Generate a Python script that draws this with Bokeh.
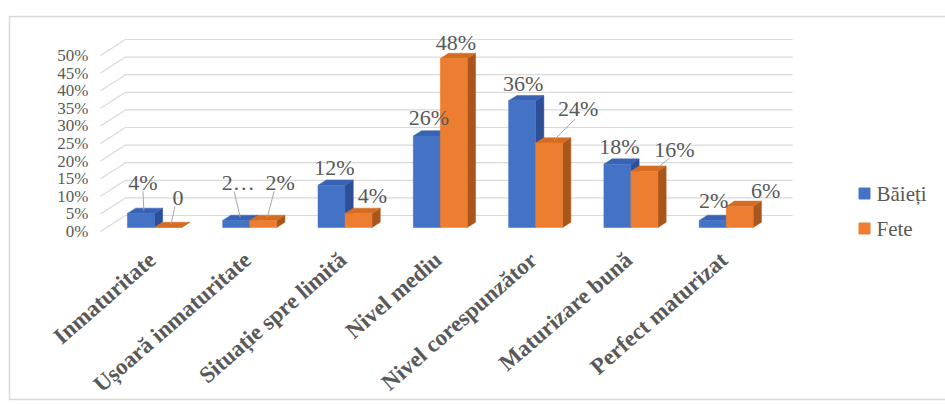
import math
from bokeh.plotting import figure
from bokeh.models import Range1d
from bokeh.core.properties import value
from bokeh.embed import file_html
from bokeh.resources import INLINE

# ---- data -------------------------------------------------------------
categories = ["Inmaturitate", "Ușoară inmaturitate", "Situație spre limită",
              "Nivel mediu", "Nivel corespunzător", "Maturizare bună",
              "Perfect maturizat"]
baieti = [4, 2, 12, 26, 36, 18, 2]
fete = [0, 2, 4, 48, 24, 16, 6]
baieti_labels = ["4%", "2…", "12%", "26%", "36%", "18%", "2%"]
fete_labels = ["0", "2%", "4%", "48%", "24%", "16%", "6%"]
series_names = ["Băieți", "Fete"]
y_ticks = [0, 5, 10, 15, 20, 25, 30, 35, 40, 45, 50]
y_tick_labels = [f"{t}%" for t in y_ticks]

# ---- layout / style -----------------------------------------------------
WIDTH, HEIGHT = 945, 404
PX_PER_CAT = 95.3          # horizontal pixels per category slot
PX_PER_PCT = 3.52          # vertical pixels per percentage point
ORIGIN_X, ORIGIN_Y = 100, 231   # screen position of (0, 0%) on the front plane

DXC = 25 / PX_PER_CAT      # depth offset of the back wall (x, in category units)
DYV = 16 / PX_PER_PCT      # depth offset of the back wall (y, in % units)
Z0, DZ = 0.25, 0.33        # bar front depth and bar thickness (fraction of wall depth)
BW = 27 / PX_PER_CAT       # bar width

FRONT = ["#4472C4", "#ED7D31"]
TOP = ["#3862B4", "#D56C22"]
SIDE = ["#2D4F98", "#A9561C"]
TEXT = "#595959"
FONT = "Liberation Serif"

# label offsets in screen px (right, up) from the bar's front top centre
label_off = [
    [(2, 31), (2, 38), (3, 18), (2, 18), (1, 17), (2, 18), (1, 20)],
    [(10, 30), (17, 38), (14, 18), (2, 16), (29, 35), (30, 22), (26, 16)],
]
# leader lines: (series, category, start offset from label centre, end offset from bar top)
leaders = [
    (0, 0, (0, -9), (3, 3)),
    (1, 0, (-3, -9), (3, 3)),
    (0, 1, (-4, -9), (4, 3)),
    (1, 1, (-6, -9), (4, 3)),
    (1, 4, (-3, -11), (5, 3)),
    (1, 5, (-5, -9), (14, 4)),
]


def px_x(px):
    return (px - ORIGIN_X) / PX_PER_CAT


def px_y(py):
    return (ORIGIN_Y - py) / PX_PER_PCT


def proj(x, v, z):
    return x + z * DXC, v + z * DYV


p = figure(width=WIDTH, height=HEIGHT, output_backend="svg", toolbar_location=None,
           x_range=Range1d(px_x(0), px_x(WIDTH)), y_range=Range1d(px_y(HEIGHT), px_y(0)),
           x_axis_type=None, y_axis_type=None, min_border=0)
p.outline_line_color = None
p.grid.visible = False
p.background_fill_color = "white"
p.border_fill_color = "white"

# chart frame
p.quad(left=px_x(9), right=px_x(WIDTH + 20), top=px_y(16), bottom=px_y(399),
       fill_color=None, line_color="#D9D9D9", line_width=1.5)

# gridlines: side-wall diagonal + back-wall horizontal
n = len(categories)
gx, gy = [], []
for t in y_ticks:
    x1, y1 = proj(0, t, 1)
    x2, _ = proj(n, t, 1)
    gx.append([0, x1, x2])
    gy.append([t, y1, y1])
p.multi_line(xs=gx, ys=gy, line_color="#D9D9D9", line_width=1.2)

# y tick labels
p.text(x=[px_x(88)] * len(y_ticks), y=y_ticks, text=y_tick_labels,
       text_font=value(FONT), text_font_size="17px", text_color=TEXT,
       text_align="right", text_baseline="middle")

# 3D bars
series = [baieti, fete]
for s, vals in enumerate(series):
    fx, fy, tx, ty, sx, sy = [], [], [], [], [], []
    for i, v in enumerate(vals):
        x0 = i + 0.5 - BW + s * BW
        x1 = x0 + BW
        z1 = Z0 + DZ
        pts = [proj(x0, 0, Z0), proj(x1, 0, Z0), proj(x1, v, Z0), proj(x0, v, Z0)]
        fx.append([q[0] for q in pts]); fy.append([q[1] for q in pts])
        pts = [proj(x0, v, Z0), proj(x1, v, Z0), proj(x1, v, z1), proj(x0, v, z1)]
        tx.append([q[0] for q in pts]); ty.append([q[1] for q in pts])
        pts = [proj(x1, 0, Z0), proj(x1, 0, z1), proj(x1, v, z1), proj(x1, v, Z0)]
        sx.append([q[0] for q in pts]); sy.append([q[1] for q in pts])
    p.patches(xs=sx, ys=sy, fill_color=SIDE[s], line_color=SIDE[s], line_width=0.5)
    p.patches(xs=tx, ys=ty, fill_color=TOP[s], line_color=TOP[s], line_width=0.5)
    p.patches(xs=fx, ys=fy, fill_color=FRONT[s], line_color=FRONT[s], line_width=0.5)


def bar_top(s, i):
    v = series[s][i]
    x = i + 0.5 - BW + s * BW + BW / 2
    return proj(x, v, Z0)


def label_pos(s, i):
    bx, by = bar_top(s, i)
    ox, oy = label_off[s][i]
    return bx + ox / PX_PER_CAT, by + oy / PX_PER_PCT


# leader lines
lx0, ly0, lx1, ly1 = [], [], [], []
for s, i, (sxo, syo), (exo, eyo) in leaders:
    lx, ly = label_pos(s, i)
    bx, by = bar_top(s, i)
    lx0.append(lx + sxo / PX_PER_CAT); ly0.append(ly + syo / PX_PER_PCT)
    lx1.append(bx + exo / PX_PER_CAT); ly1.append(by + eyo / PX_PER_PCT)
p.segment(x0=lx0, y0=ly0, x1=lx1, y1=ly1, line_color="#A6A6A6", line_width=1)

# value labels
for s, labels in enumerate([baieti_labels, fete_labels]):
    pos = [label_pos(s, i) for i in range(n)]
    p.text(x=[q[0] for q in pos], y=[q[1] for q in pos], text=labels,
           text_font=value(FONT), text_font_size="22px", text_color=TEXT,
           text_align="center", text_baseline="middle")

# category labels (rotated)
cx = [i + 0.5 + Z0 * DXC - 2 / PX_PER_CAT for i in range(n)]
p.text(x=cx, y=[px_y(256)] * n, text=categories, angle=math.radians(41),
       text_font=value(FONT), text_font_size="23px", text_font_style="bold",
       text_color=TEXT, text_align="right", text_baseline="middle")

# legend
leg_y = [px_y(193), px_y(228)]
p.scatter(x=[px_x(864)] * 2, y=leg_y, marker="square", size=11,
          fill_color=FRONT, line_color=FRONT)
p.text(x=[px_x(876)] * 2, y=leg_y, text=series_names, text_font=value(FONT),
       text_font_size="21px", text_color=TEXT, text_align="left",
       text_baseline="middle")

open("out.html", "w").write(file_html(p, INLINE))
